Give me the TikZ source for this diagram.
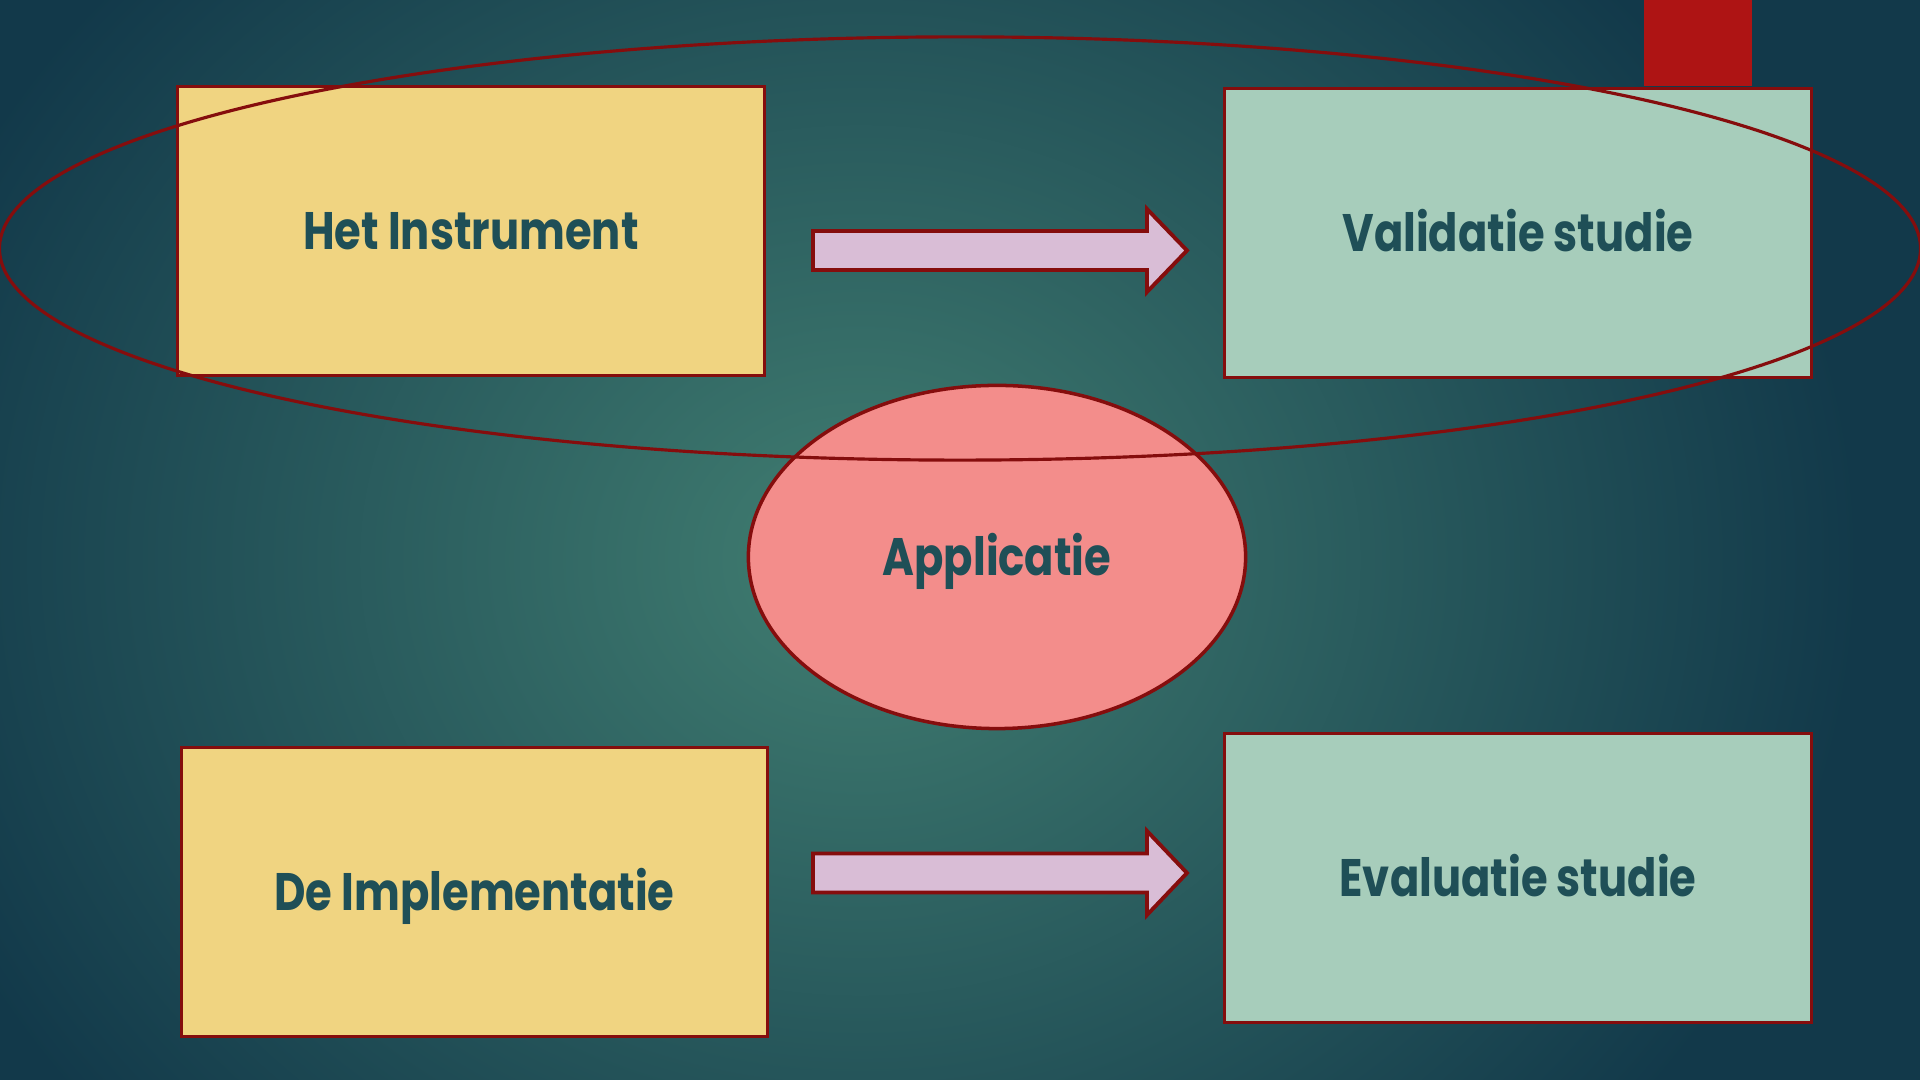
\documentclass[tikz,border=0pt]{standalone}
\usepackage{fontspec}
\setmainfont{Poppins}[FakeStretch = 0.82]
\usetikzlibrary{shapes.geometric}
\definecolor{bgin}{HTML}{417E71}
\definecolor{bgout}{HTML}{12394A}
\definecolor{rand}{HTML}{850D0D}
\definecolor{tekst}{HTML}{1F4F57}
\definecolor{geel}{HTML}{F0D481}
\definecolor{groen}{HTML}{A7CDBB}
\definecolor{roze}{HTML}{F38D8B}
\definecolor{lila}{HTML}{D9BDD6}
\definecolor{rood}{HTML}{AE1414}

\begin{document}
\begin{tikzpicture} [x = 0.01cm, y = -0.01cm,
  tekstje/.style = {text = tekst, text height = 10.6pt, text depth = 0pt, font = \fontsize{15}{18}\selectfont\bfseries},
  blok/.style = {tekstje, draw = rand, line width = 0.9pt, minimum width = 5.86cm, minimum height = 2.89cm},
  pijl/.style = {draw = rand, fill = lila, line width = 1.1pt, line join = miter}]
\useasboundingbox (0,0) rectangle (1920,1080);
\clip (0,0) rectangle (1920,1080);
\fill [bgout] (0,0) rectangle (1920,1080);
\shade [inner color = bgin, outer color = bgout] (860,560) ellipse [x radius = 1000, y radius = 870];
\fill [rood] (1644,0) rectangle (1752,86);
\node [blok, fill = geel] (instr) at (471,231) {Het Instrument};
\node [blok, fill = groen] (valid) at (1518,233) {Validatie studie};
\node [blok, fill = geel] (impl) at (474.5,892) {De Implementatie};
\node [blok, fill = groen] (eval) at (1518,878) {Evaluatie studie};
\draw [pijl] (813,231) -- (1147,231) -- (1147,209) -- (1187,250.5) -- (1147,292) -- (1147,270) -- (813,270) -- cycle;
\draw [pijl] (813,853.5) -- (1147,853.5) -- (1147,831) -- (1187,873) -- (1147,915) -- (1147,892.5) -- (813,892.5) -- cycle;
\node [tekstje, ellipse, draw = rand, fill = roze, line width = 1pt, minimum width = 4.97cm, minimum height = 3.43cm] (appl) at (997,557) {Applicatie};
\node [ellipse, draw = rand, line width = 0.9pt, minimum width = 19.2cm, minimum height = 4.23cm] (kring) at (960,248.5) {};
\end{tikzpicture}
\end{document}
